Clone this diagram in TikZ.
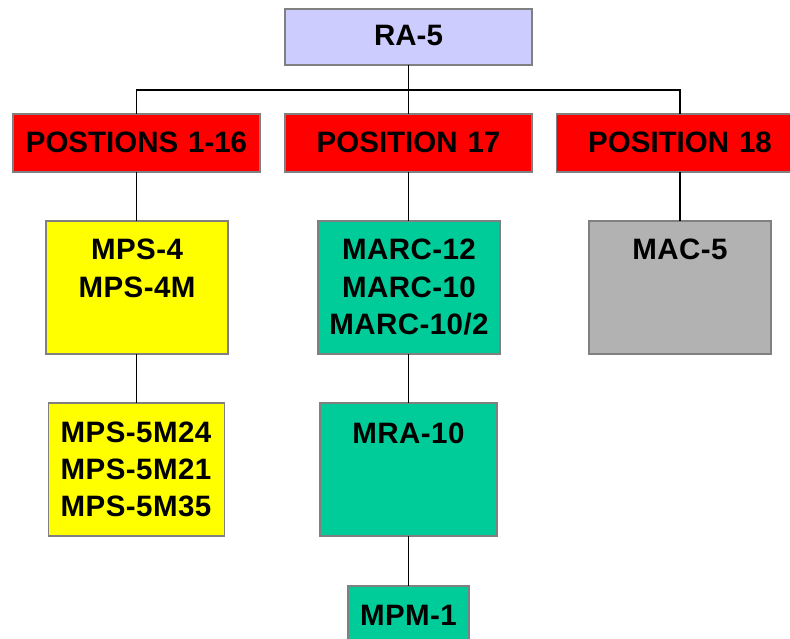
\documentclass[tikz,border=0pt]{standalone}
\usepackage{fontspec}
\setmainfont{Liberation Sans}
\newfontfamily\spacedfont[LetterSpace=1.5]{Liberation Sans}
\definecolor{lav}{HTML}{CCCCFF}
\definecolor{redbox}{HTML}{FF0000}
\definecolor{yel}{HTML}{FFFF00}
\definecolor{grn}{HTML}{00CC99}
\definecolor{gry}{HTML}{B2B2B2}
\definecolor{edge}{HTML}{808080}
\tikzset{
  box/.style={draw=edge, line width=1.5pt, inner sep=0pt, outer sep=0pt, rectangle},
  txt/.style={inner sep=0pt, anchor=base, text width=240pt, align=center,
              font=\fontsize{29.5}{37}\selectfont\bfseries},
  txtsp/.style={txt, font=\spacedfont\fontsize{29.5}{37}\selectfont\bfseries},
  conn/.style={draw=black, line width=1.3pt}
}
\begin{document}
\begin{tikzpicture}[x=1pt,y=-1pt]
\clip (0,0) rectangle (790,639);
\fill[white] (0,0) rectangle (790,639);
% boxes
\node[box, fill=lav, minimum width=247pt, minimum height=56pt] (ra) at (408.5,37) {};
\node[box, fill=redbox, minimum width=247pt, minimum height=58pt] (p1) at (136.5,143) {};
\node[box, fill=redbox, minimum width=247pt, minimum height=58pt] (p17) at (408.5,143) {};
\node[box, fill=redbox, minimum width=247pt, minimum height=58pt] (p18) at (680,143) {};
\node[box, fill=yel, minimum width=182pt, minimum height=133pt] (mps4) at (137,287.5) {};
\node[box, fill=yel, minimum width=176pt, minimum height=133pt] (mps5) at (136.5,469.5) {};
\node[box, fill=grn, minimum width=182pt, minimum height=133pt] (marc) at (409,287.5) {};
\node[box, fill=grn, minimum width=177pt, minimum height=133pt] (mra) at (408.5,469.5) {};
\node[box, fill=grn, minimum width=121pt, minimum height=70pt] (mpm) at (408.5,621) {};
\node[box, fill=gry, minimum width=182pt, minimum height=133pt] (mac) at (680,287.5) {};
% texts
\node[txt] (tra) at (408.5,46) {RA-5};
\node[txt] (tp1) at (136.5,153) {POSTIONS 1-16};
\node[txt] (tp17) at (408.5,153) {POSITION 17};
\node[txt] (tp18) at (680,153) {POSITION 18};
\node[txtsp] (tmps4) at (137,260) {MPS-4\\MPS-4M};
\node[txtsp] (tmps5) at (136,442) {MPS-5M24\\MPS-5M21\\MPS-5M35};
\node[txtsp] (tmarc) at (409,260) {MARC-12\\MARC-10\\MARC-10/2};
\node[txtsp] (tmra) at (408.5,443) {MRA-10};
\node[txtsp] (tmpm) at (408.5,625) {MPM-1};
\node[txtsp] (tmac) at (680,260) {MAC-5};
% connectors
\coordinate (bus) at (408.5,90);
\draw[conn] (ra.south) -- (p17.north);
\draw[conn] (p1.north) |- (bus) -| (p18.north);
\draw[conn] (p1.south) -- (p1.south |- mps4.north);
\draw[conn] (mps4.south -| p1.south) -- (p1.south |- mps5.north);
\draw[conn] (p17.south) -- (p17.south |- marc.north);
\draw[conn] (marc.south -| p17.south) -- (p17.south |- mra.north);
\draw[conn] (mra.south) -- (mpm.north);
\draw[conn] (p18.south) -- (mac.north);
\end{tikzpicture}
\end{document}
